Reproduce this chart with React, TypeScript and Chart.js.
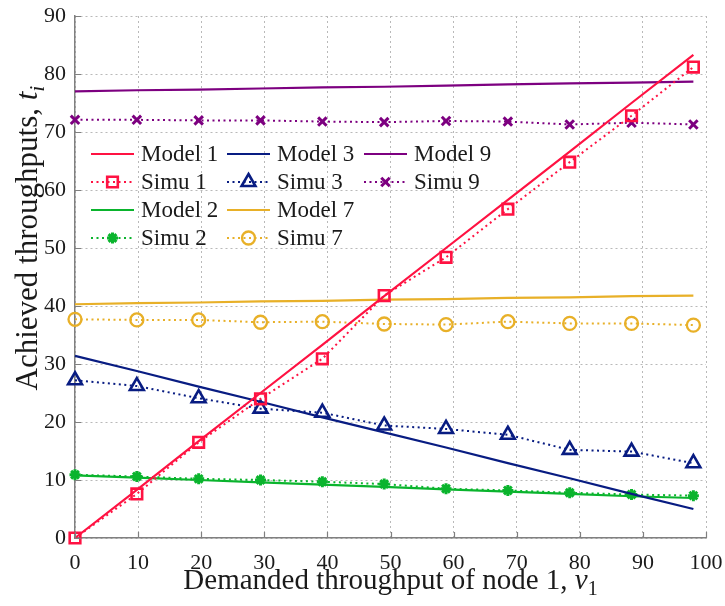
import React, { useEffect, useRef } from 'react';
import { Chart, registerables } from 'chart.js';
import { drawPoint } from 'chart.js/helpers';

Chart.register(...registerables);

const xValues = [0, 9.8, 19.6, 29.4, 39.2, 49, 58.8, 68.6, 78.4, 88.2, 98];

const model1 = [0, 8.3, 16.7, 25.0, 33.3, 41.7, 50.0, 58.3, 66.6, 75.0, 83.3];
const simu1 = [0, 7.6, 16.5, 24.0, 30.9, 41.8, 48.4, 56.7, 64.8, 72.8, 81.2];
const model3 = [31.4, 28.8, 26.1, 23.5, 20.8, 18.2, 15.6, 12.9, 10.3, 7.6, 5.0];
const simu3 = [27.2, 26.2, 24.1, 22.3, 21.6, 19.4, 18.8, 17.8, 15.2, 14.9, 12.9];
const model9 = [77.0, 77.2, 77.3, 77.5, 77.7, 77.8, 78.0, 78.2, 78.4, 78.5, 78.7];
const simu9 = [72.1, 72.1, 72.0, 72.0, 71.8, 71.7, 71.9, 71.8, 71.3, 71.6, 71.3];
const model2 = [10.8, 10.4, 10.0, 9.6, 9.2, 8.8, 8.4, 8.0, 7.6, 7.2, 6.9];
const simu2 = [10.9, 10.6, 10.2, 10.0, 9.7, 9.3, 8.5, 8.2, 7.8, 7.5, 7.3];
const model7 = [40.3, 40.5, 40.6, 40.8, 40.9, 41.1, 41.2, 41.4, 41.5, 41.7, 41.8];
const simu7 = [37.7, 37.6, 37.6, 37.2, 37.3, 36.9, 36.8, 37.3, 37.0, 37.0, 36.7];

const xTitle = [
  { text: 'Demanded throughput of node 1, ' },
  { text: 'v', italic: true },
  { text: '1', sub: true },
];
const yTitle = [
  { text: 'Achieved throughputs, ' },
  { text: 't', italic: true },
  { text: 'i', italic: true, sub: true },
];

const legendRows = [
  ['Model 1', 'Model 3', 'Model 9'],
  ['Simu 1', 'Simu 3', 'Simu 9'],
  ['Model 2', 'Model 7'],
  ['Simu 2', 'Simu 7'],
];

const RED = 'rgb(255,18,66)';
const BLUE = 'rgb(8,28,130)';
const PURPLE = 'rgb(125,0,128)';
const GREEN = 'rgb(10,180,45)';
const GOLD = 'rgb(232,176,40)';
const FONT = '"Liberation Serif", "Times New Roman", serif';
const AXIS_GRAY = 'rgb(128,128,128)';

function pts(vals: number[]) {
  return vals.map((y, i) => ({ x: xValues[i], y }));
}

function modelDs(label: string, vals: number[], color: string) {
  return {
    label,
    data: pts(vals),
    borderColor: color,
    backgroundColor: color,
    borderWidth: 2.2,
    pointRadius: 0,
    pointHoverRadius: 0,
    tension: 0,
    clip: false as const,
  };
}

function simuDs(label: string, vals: number[], color: string, style: string, radius: number, pbw: number, fill: string) {
  return {
    label,
    data: pts(vals),
    borderColor: color,
    backgroundColor: fill,
    borderWidth: 2,
    borderDash: [2, 3.5],
    pointStyle: style,
    pointRadius: radius,
    pointHoverRadius: radius,
    pointBorderWidth: pbw,
    pointBorderColor: color,
    pointBackgroundColor: fill,
    tension: 0,
    clip: false as const,
  };
}

type Part = { text: string; italic?: boolean; sub?: boolean };

function partFont(p: Part, size: number) {
  const s = p.sub ? Math.round(size * 0.7) : size;
  return `${p.italic ? 'italic ' : ''}${s}px ${FONT}`;
}

function drawMixed(ctx: CanvasRenderingContext2D, parts: Part[], size: number) {
  // centred horizontally at 0, alphabetic baseline at 0
  let total = 0;
  const widths = parts.map((p) => {
    ctx.font = partFont(p, size);
    const w = ctx.measureText(p.text).width;
    total += w;
    return w;
  });
  let x = -total / 2;
  ctx.textBaseline = 'alphabetic';
  ctx.textAlign = 'left';
  parts.forEach((p, i) => {
    ctx.font = partFont(p, size);
    ctx.fillText(p.text, x, p.sub ? size * 0.22 : 0);
    x += widths[i];
  });
}

const decorPlugin = {
  id: 'decor',
  afterDraw(chart: any) {
    const ctx: CanvasRenderingContext2D = chart.ctx;
    const area = chart.chartArea;
    const xs = chart.scales.x;
    const ys = chart.scales.y;
    ctx.save();
    ctx.strokeStyle = AXIS_GRAY;
    ctx.lineWidth = 1.2;
    ctx.setLineDash([]);
    ctx.beginPath();
    xs.ticks.forEach((t: any) => {
      const px = Math.round(xs.getPixelForValue(t.value)) + 0.5;
      ctx.moveTo(px, area.bottom);
      ctx.lineTo(px, area.bottom - 6);
    });
    ys.ticks.forEach((t: any) => {
      const py = Math.round(ys.getPixelForValue(t.value)) + 0.5;
      ctx.moveTo(area.left, py);
      ctx.lineTo(area.left + 6, py);
    });
    ctx.stroke();

    ctx.fillStyle = '#1a1a1a';
    ctx.save();
    ctx.translate((area.left + area.right) / 2, 589);
    drawMixed(ctx, xTitle, 29);
    ctx.restore();
    ctx.save();
    ctx.translate(37, 238);
    ctx.rotate(-Math.PI / 2);
    drawMixed(ctx, yTitle, 31);
    ctx.restore();

    const colX = [area.left + 16, area.left + 152, area.left + 289];
    const rowY0 = area.top + 138;
    const rowH = 28;
    const byLabel: Record<string, any> = {};
    chart.data.datasets.forEach((d: any) => (byLabel[d.label] = d));
    legendRows.forEach((row, r) => {
      row.forEach((label, c) => {
        const d = byLabel[label];
        const x0 = colX[c];
        const y = rowY0 + r * rowH;
        ctx.save();
        ctx.strokeStyle = d.borderColor;
        ctx.lineWidth = d.borderWidth;
        ctx.setLineDash(d.borderDash || []);
        ctx.beginPath();
        ctx.moveTo(x0, y);
        ctx.lineTo(x0 + 43, y);
        ctx.stroke();
        ctx.setLineDash([]);
        if (d.pointRadius > 0) {
          ctx.strokeStyle = d.pointBorderColor;
          ctx.fillStyle = d.pointBackgroundColor;
          ctx.lineWidth = d.pointBorderWidth;
          drawPoint(ctx, { pointStyle: d.pointStyle, radius: d.pointRadius, borderWidth: d.pointBorderWidth, rotation: 0 } as any, x0 + 21.5, y);
        }
        ctx.fillStyle = '#1a1a1a';
        ctx.font = `23px ${FONT}`;
        ctx.textAlign = 'left';
        ctx.textBaseline = 'middle';
        ctx.fillText(label, x0 + 50, y + 1);
        ctx.restore();
      });
    });
    ctx.restore();
  },
};

function zeroPad(s: any) {
  s.paddingTop = 0;
  s.paddingBottom = 0;
  s.paddingLeft = 0;
  s.paddingRight = 0;
}

export default function App() {
  const canvasRef = useRef<HTMLCanvasElement | null>(null);

  useEffect(() => {
    const canvas = canvasRef.current;
    if (!canvas) return;
    const NONE = 'rgba(0,0,0,0)';
    const chart = new Chart(canvas, {
      type: 'line',
      data: {
        datasets: [
          modelDs('Model 1', model1, RED),
          simuDs('Simu 1', simu1, RED, 'rect', 7.5, 2.6, NONE),
          modelDs('Model 3', model3, BLUE),
          simuDs('Simu 3', simu3, BLUE, 'triangle', 8, 2.6, NONE),
          modelDs('Model 9', model9, PURPLE),
          simuDs('Simu 9', simu9, PURPLE, 'crossRot', 6, 3, NONE),
          modelDs('Model 2', model2, GREEN),
          simuDs('Simu 2', simu2, GREEN, 'star', 5.5, 3, GREEN),
          modelDs('Model 7', model7, GOLD),
          simuDs('Simu 7', simu7, GOLD, 'circle', 6.5, 2.3, NONE),
        ] as any,
      },
      options: {
        animation: false,
        responsive: true,
        maintainAspectRatio: false,
        layout: { autoPadding: false, padding: { top: 16, right: 19, left: 0, bottom: 0 } },
        plugins: {
          legend: { display: false },
          title: { display: false },
          tooltip: { enabled: false },
        },
        scales: {
          x: {
            type: 'linear',
            min: 0,
            max: 100,
            ticks: {
              stepSize: 10,
              color: '#1a1a1a',
              font: { family: FONT, size: 22 },
              padding: 12,
              maxRotation: 0,
            },
            grid: {
              color: 'rgb(185,185,185)',
              lineWidth: 1,
              drawTicks: false,
            },
            border: { display: true, color: AXIS_GRAY, width: 1.5, dash: [2, 3] },
            afterFit: (s: any) => {
              s.height = 68;
              zeroPad(s);
            },
          },
          y: {
            type: 'linear',
            min: 0,
            max: 90,
            ticks: {
              stepSize: 10,
              color: '#1a1a1a',
              font: { family: FONT, size: 22 },
              padding: 9,
            },
            grid: {
              color: 'rgb(185,185,185)',
              lineWidth: 1,
              drawTicks: false,
            },
            border: { display: true, color: AXIS_GRAY, width: 1.5, dash: [2, 3] },
            afterFit: (s: any) => {
              s.width = 75;
              zeroPad(s);
            },
          },
        },
      } as any,
      plugins: [decorPlugin],
    });
    return () => chart.destroy();
  }, []);

  return (
    <div style={{ position: 'fixed', left: 0, top: 0, width: 725, height: 606, background: '#fff' }}>
      <canvas ref={canvasRef} />
    </div>
  );
}
